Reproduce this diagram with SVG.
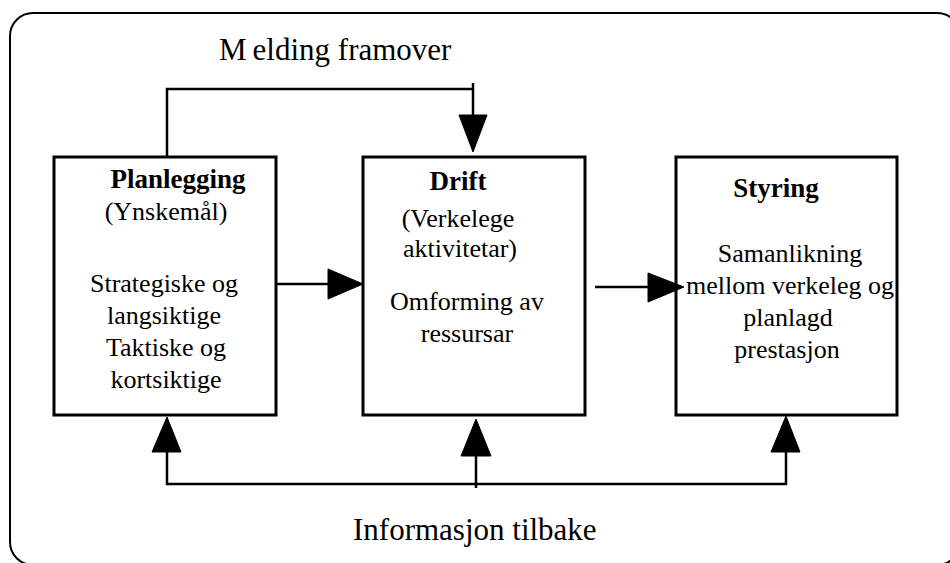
<svg xmlns="http://www.w3.org/2000/svg" width="950" height="563" viewBox="0 0 950 563" font-family="'Liberation Serif', 'Times New Roman', serif">
  <style>
    .frame { fill: none; stroke: #000; stroke-width: 2; }
    .box { fill: #fff; stroke: #000; stroke-width: 3; }
    .wire { fill: none; stroke: #000; stroke-width: 2.5; }
    .head { fill: #000; stroke: #000; stroke-width: 1; stroke-linejoin: round; }
    .t, .b, .cap { font-family: "Liberation Serif", "Times New Roman", serif; fill: #000; }
    .t { font-size: 26px; text-anchor: middle; }
    .b { font-size: 27px; font-weight: bold; text-anchor: middle; }
    .cap { font-size: 31px; }
  </style>

  <rect width="950" height="563" fill="#fff"/>

  <!-- outer frame -->
  <rect class="frame" x="10" y="13" width="950" height="552" rx="23" ry="23"/>

  <!-- labels on the frame -->
  <text class="cap" x="219" y="60">M<tspan dx="6">elding framover</tspan></text>
  <text class="cap" x="353" y="540">Informasjon tilbake</text>

  <g id="planlegging">
    <rect class="box" x="54" y="157" width="222" height="258"/>
    <text class="b" x="178" y="188">Planlegging</text>
    <text class="t" x="166" y="220">(Ynskemål)</text>
    <text class="t" x="164" y="292">Strategiske og</text>
    <text class="t" x="164" y="324">langsiktige</text>
    <text class="t" x="166" y="356">Taktiske og</text>
    <text class="t" x="166" y="388">kortsiktige</text>
  </g>

  <g id="drift">
    <rect class="box" x="363" y="157" width="222" height="258"/>
    <text class="b" x="458" y="190">Drift</text>
    <text class="t" x="458" y="227">(Verkelege</text>
    <text class="t" x="460" y="257">aktivitetar)</text>
    <text class="t" x="467" y="310">Omforming av</text>
    <text class="t" x="467" y="342">ressursar</text>
  </g>

  <g id="styring">
    <rect class="box" x="676" y="157" width="221" height="258"/>
    <text class="b" x="776" y="197">Styring</text>
    <text class="t" x="790" y="262">Samanlikning</text>
    <text class="t" x="790" y="294">mellom verkeleg og</text>
    <text class="t" x="788" y="326">planlagd</text>
    <text class="t" x="787" y="358">prestasjon</text>
  </g>

  <!-- connectors, drawn over the boxes so arrow tips stay visible -->
  <g id="connectors">
    <!-- forward message: Planlegging -> Drift -->
    <polyline class="wire" points="167,156 167,89 473,89"/>
    <line class="wire" x1="473" y1="83" x2="473" y2="118"/>
    <polygon class="head" points="459,115 487,115 473,152"/>

    <!-- Planlegging -> Drift -->
    <line class="wire" x1="276" y1="284" x2="330" y2="284"/>
    <polygon class="head" points="328,269 328,299 363,284"/>

    <!-- Drift -> Styring -->
    <line class="wire" x1="595" y1="287" x2="650" y2="287"/>
    <polygon class="head" points="648,273 648,302 684,287"/>

    <!-- feedback line -->
    <polyline class="wire" points="167,450 167,484 786,484 786,450"/>
    <line class="wire" x1="476" y1="455" x2="476" y2="488"/>
    <polygon class="head" points="152,452 181,452 167,417"/>
    <polygon class="head" points="461,456 491,456 476,419"/>
    <polygon class="head" points="771,452 800,452 786,416"/>
  </g>
</svg>
